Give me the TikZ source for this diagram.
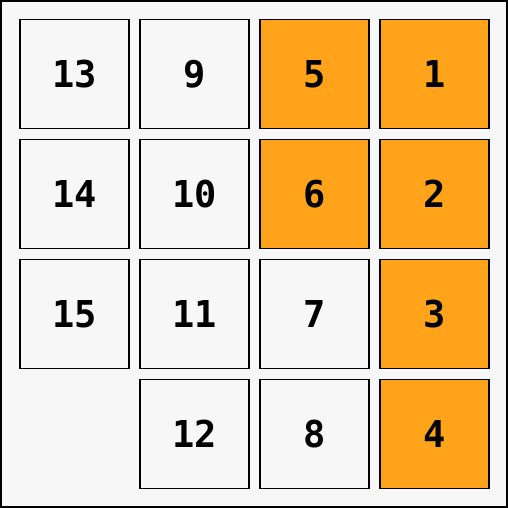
\documentclass[tikz,border=0pt]{standalone}
\usepackage{fontspec}
\newfontfamily\tilefont{DejaVu Sans Mono}
\usepackage{xcolor}
\usepackage{tikz}
\usetikzlibrary{positioning}
\definecolor{boardgray}{HTML}{F7F7F7}
\definecolor{tileorange}{HTML}{FFA31A}
\tikzstyle{tile} = [rectangle, minimum size=109pt, inner sep=0pt, draw=black, line width=1.8pt, fill=boardgray, font=\tilefont\bfseries\fontsize{37}{37}\selectfont]
\tikzstyle{done} = [tile, fill=tileorange]

\begin{document}
\begin{tikzpicture}[node distance=120pt, x=1pt, y=1pt]

  % Board
  \useasboundingbox (0,0) rectangle (508,-508);
  \draw[fill=boardgray, line width=2pt] (1,-1) rectangle (507,-507);

  % First column
  \node (tile13) [tile] at (74.5,-74) {13};
  \node (tile14) [tile, below of=tile13] {14};
  \node (tile15) [tile, below of=tile14] {15};

  % Second column
  \node (tile9) [tile, right of=tile13] {9};
  \node (tile10) [tile, below of=tile9] {10};
  \node (tile11) [tile, below of=tile10] {11};
  \node (tile12) [tile, below of=tile11] {12};

  % Third column
  \node (tile5) [done, right of=tile9] {5};
  \node (tile6) [done, below of=tile5] {6};
  \node (tile7) [tile, below of=tile6] {7};
  \node (tile8) [tile, below of=tile7] {8};

  % Fourth column
  \node (tile1) [done, right of=tile5] {1};
  \node (tile2) [done, below of=tile1] {2};
  \node (tile3) [done, below of=tile2] {3};
  \node (tile4) [done, below of=tile3] {4};

\end{tikzpicture}
\end{document}
